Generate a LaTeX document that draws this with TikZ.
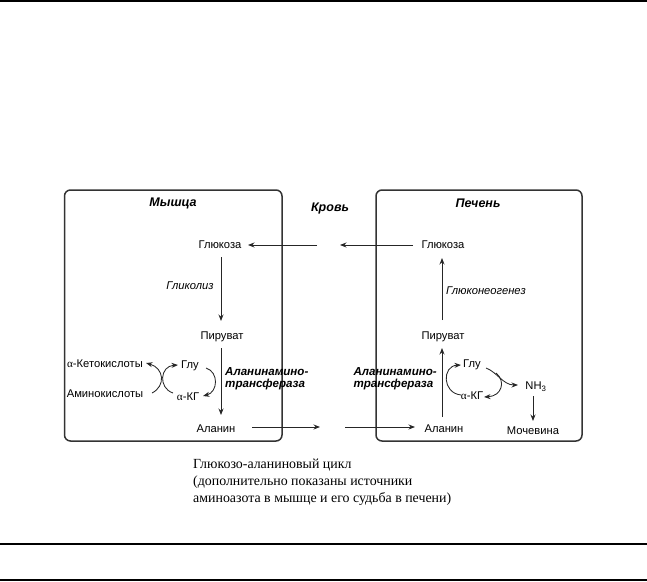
\documentclass[tikz,border=0pt]{standalone}
\usepackage{fontspec}
\setmainfont{Liberation Sans}
\newfontfamily\capfont{Liberation Serif}
\usetikzlibrary{arrows.meta}
\begin{document}
\begin{tikzpicture}[x=1pt,y=-1pt,
  lbl/.style={font=\fontsize{11.2}{13}\selectfont, inner sep=1pt},
  ttl/.style={font=\fontsize{12.5}{14}\selectfont\bfseries\itshape, inner sep=1pt},
  enz/.style={font=\fontsize{11.6}{12.3}\selectfont\bfseries\itshape, inner sep=1pt, align=left},
  proc/.style={font=\fontsize{11.2}{13}\selectfont\itshape, inner sep=1pt},
  arr/.style={-{Stealth[length=6.5pt,width=5pt]}, line width=0.85pt, draw=black!85},
  box/.style={draw=black!80, line width=1.5pt, rounded corners=6pt},
  rule/.style={line width=1.6pt}]
\useasboundingbox (0,0) rectangle (647,581);
% rules
\draw[rule] (0,1.2) -- (647,1.2);
\draw[rule] (0,544) -- (647,544);
\draw[rule] (0,579.8) -- (647,579.8);
% boxes
\draw[box] (64.5,190) rectangle (282,441);
\draw[box] (376,190) rectangle (582,441);
% titles
\node[ttl] (mus) at (173,203) {Мышца};
\node[ttl] (krov) at (330,208) {Кровь};
\node[ttl] (liv) at (478,203) {Печень};
% left box
\node[lbl] (gL) at (220,245) {Глюкоза};
\node[proc] (glyc) at (190,286) {Гликолиз};
\node[lbl] (pL) at (222,337) {Пируват};
\node[lbl] (aL) at (216,429) {Аланин};
\node[lbl] (ket) at (105,364) {{\capfont α}-Кетокислоты};
\node[lbl] (amk) at (105,394) {Аминокислоты};
\node[lbl] (gluL) at (190,366) {Глу};
\node[lbl] (akgL) at (188,397) {{\capfont α}-КГ};
\node[enz, anchor=west] (atL) at (224,379) {Аланинамино-\\трансфераза};
% right box
\node[lbl] (gR) at (443,245) {Глюкоза};
\node[proc, anchor=west] (gng) at (445,291) {Глюконеогенез};
\node[lbl] (pR) at (443,337) {Пируват};
\node[lbl] (aR) at (444,429) {Аланин};
\node[lbl] (gluR) at (472,365) {Глу};
\node[lbl] (akgR) at (472,396) {{\capfont α}-КГ};
\node[lbl] (nh3) at (536,387) {NH\textsubscript{3}};
\node[lbl] (urea) at (533,431) {Мочевина};
\node[enz, anchor=east] (atR) at (438,379) {Аланинамино-\\трансфераза};
% blood coordinates
\coordinate (b1) at (317,245);
\coordinate (b2) at (340,245);
\coordinate (b3) at (320,427);
\coordinate (b4) at (345,427);
% main arrows
\draw[arr] (b1) -- (gL.east -| 248,245);
\draw[arr] (gR.west -| 413,245) -- (b2);
\draw[arr] (221,257) -- (221,321);
\draw[arr] (221,348) -- (221,415);
\draw[arr] (252,427) -- (b3);
\draw[arr] (b4) -- (415,427);
\draw[arr] (442,417) -- (442,348);
\draw[arr] (442,320) -- (442,258);
\draw[arr] (533,396) -- (533,421);
% transamination arcs left
\draw[arr] (152,393) .. controls (166,386) and (164,368) .. (146,363);
\draw[arr] (173,393) .. controls (158,388) and (160,366) .. (178,365);
\draw[arr] (206,368) .. controls (219,372) and (218,392) .. (203,396);
% right arcs
\draw[arr] (461,395) .. controls (442,393) and (442,366) .. (461,365);
\draw[arr] (486,368) .. controls (497,372) and (503,385) .. (518,385);
\draw[arr] (496,373) .. controls (506,381) and (502,396) .. (484,397);
% caption
\node[font=\capfont\fontsize{13.9}{17}\selectfont, align=left, anchor=north west, inner sep=0pt] (cap) at (193,459)
  {Глюкозо-аланиновый цикл\\(дополнительно показаны источники\\аминоазота в мышце и его судьба в печени)};
\end{tikzpicture}
\end{document}
